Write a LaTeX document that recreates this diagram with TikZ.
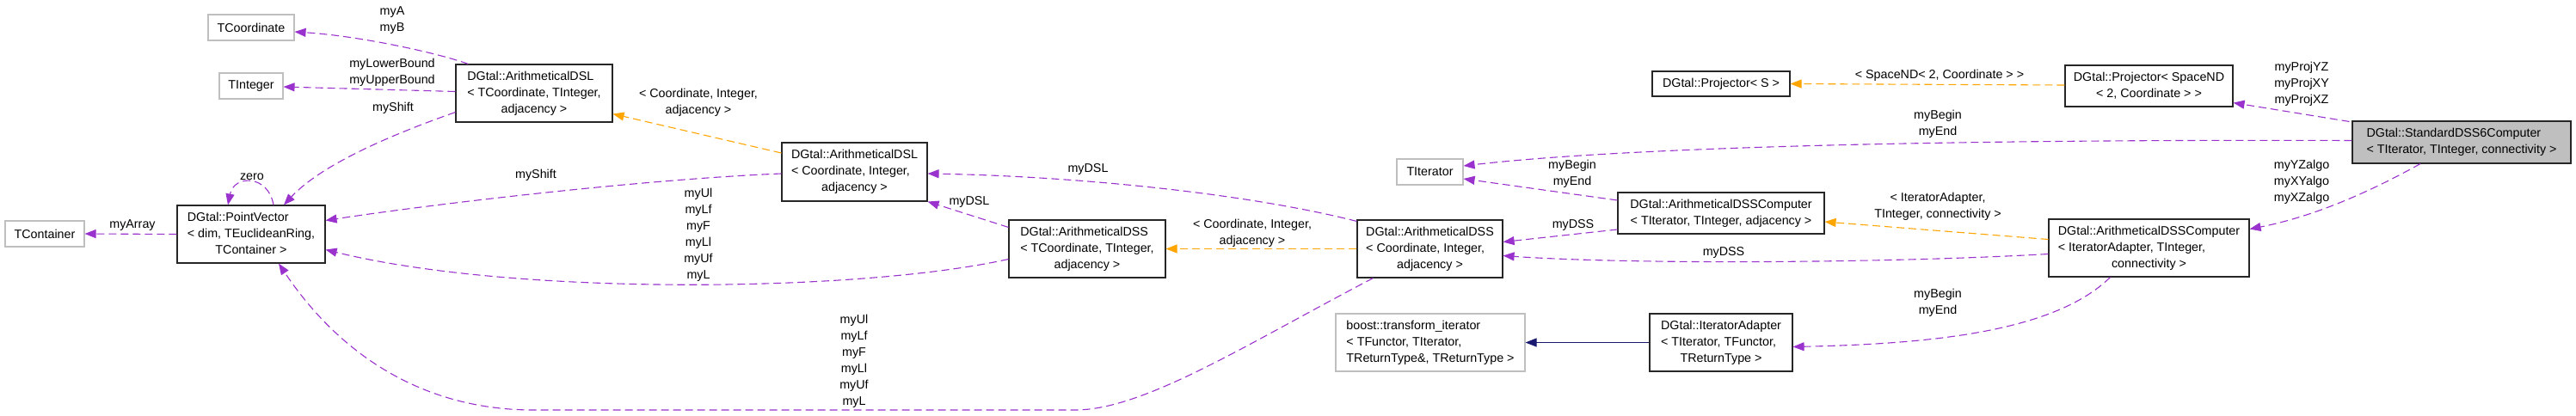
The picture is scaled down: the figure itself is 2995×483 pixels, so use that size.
\documentclass[tikz,border=0pt]{standalone}
\usepackage{fontspec}
\setmainfont{Liberation Sans}
\usepackage{tikz}
\usetikzlibrary{arrows.meta,calc}

\definecolor{usecol}{HTML}{9A32CD}
\definecolor{tplcol}{HTML}{FFA500}
\definecolor{inhcol}{HTML}{191970}
\definecolor{boxgray}{HTML}{BFBFBF}

% class label: left lines, then a centred last line
\newcommand{\cls}[2]{\begin{tabular}{@{}l@{}}#1\\\multicolumn{1}{@{}c@{}}{#2}\end{tabular}}

\begin{document}
\begin{tikzpicture}[
  x=1pt, y=-1pt,
  every node/.style={font=\fontsize{14.3}{19}\selectfont},
  box/.style={draw=black!85, line width=1.1pt, fill=white, inner sep=0pt},
  extbox/.style={box, draw=boxgray},
  curbox/.style={box, fill=boxgray},
  lbl/.style={align=center, inner sep=0pt},
  member/.style={-{Triangle[length=13pt,width=10pt]}, draw=usecol,
                 line width=1.1pt, dash pattern=on 9pt off 5pt},
  tmpl/.style={member, draw=tplcol},
  inh/.style={-{Triangle[length=13pt,width=10pt]}, draw=inhcol, line width=1.1pt}
]
\useasboundingbox (0,0) rectangle (2995,483);

%--------------------------------------------------
% left: point vector and its members
%--------------------------------------------------
\node[extbox, minimum width=100, minimum height=30] (tcoord) at (292,32) {TCoordinate};
\node[extbox, minimum width=74, minimum height=30] (tint) at (292,100) {TInteger};
\node[extbox, minimum width=92, minimum height=30] (tcont) at (52,272) {TContainer};

\node[box, minimum width=172, minimum height=67] (pv) at (292,272.5)
  {\cls{DGtal::PointVector\\< dim, TEuclideanRing,}{TContainer >}};

\node[box, minimum width=182, minimum height=67] (dslT) at (621,108.5)
  {\cls{DGtal::ArithmeticalDSL\\< TCoordinate, TInteger,}{adjacency >}};

%--------------------------------------------------
% middle: DSL / DSS classes
%--------------------------------------------------
\node[box, minimum width=169, minimum height=68] (dslC) at (993.5,200)
  {\cls{DGtal::ArithmeticalDSL\\< Coordinate, Integer,}{adjacency >}};

\node[box, minimum width=182, minimum height=67] (dssT) at (1264,289.5)
  {\cls{DGtal::ArithmeticalDSS\\< TCoordinate, TInteger,}{adjacency >}};

\node[box, minimum width=169, minimum height=67] (dssC) at (1662.5,289.5)
  {\cls{DGtal::ArithmeticalDSS\\< Coordinate, Integer,}{adjacency >}};

\node[extbox, minimum width=77, minimum height=30] (titer) at (1662.5,200) {TIterator};

\node[extbox, minimum width=220, minimum height=67] (boost) at (1663,398.5)
  {\cls{boost::transform\_iterator\\< TFunctor, TIterator,}{TReturnType\&, TReturnType >}};

%--------------------------------------------------
% right: computers and projectors
%--------------------------------------------------
\node[box, minimum width=160, minimum height=29] (projS) at (2001,97.5) {DGtal::Projector< S >};

\node[box, minimum width=240, minimum height=48] (adsscT) at (2001,248)
  {\cls{DGtal::ArithmeticalDSSComputer}{< TIterator, TInteger, adjacency >}};

\node[box, minimum width=166, minimum height=67] (iterAd) at (2001,398.5)
  {\cls{DGtal::IteratorAdapter\\< TIterator, TFunctor,}{TReturnType >}};

\node[box, minimum width=195, minimum height=48] (projN) at (2498.5,100)
  {\cls{DGtal::Projector< SpaceND}{< 2, Coordinate > >}};

\node[box, minimum width=233, minimum height=67] (adsscI) at (2498.5,288.5)
  {\cls{DGtal::ArithmeticalDSSComputer\\< IteratorAdapter, TInteger,}{connectivity >}};

\node[curbox, minimum width=254, minimum height=49] (dss6) at (2862,165.5)
  {\cls{DGtal::StandardDSS6Computer}{< TIterator, TInteger, connectivity >}};

%--------------------------------------------------
% connectors
%--------------------------------------------------
\draw[member] ($(dslT.north west)+(15,0)$) .. controls (510,62) and (420,42) .. ($(tcoord.east)+(0,5)$);
\draw[member] ($(dslT.west)+(0,-2)$) -- ($(tint.east)+(0,1)$);
\draw[member] ($(dslT.south west)+(0,-12)$) .. controls (460,155) and (375,190) .. ($(pv.north)+(38,0)$);
\draw[member] ($(pv.north)+(26,0)$) .. controls (312,203) and (272,203) .. ($(pv.north)+(-27,0)$);
\draw[member] (pv.west) -- (tcont.east);

\draw[member] ($(dslC.west)+(0,2)$) .. controls (760,208) and (520,235) .. ($(pv.east)+(0,-16)$);
\draw[member] ($(dssT.west)+(0,12)$) .. controls (1000,340) and (600,345) .. ($(pv.east)+(0,18)$);
\draw[member] ($(dssC.south west)+(19,0)$) .. controls (1450,400) and (1330,477) .. (1250,477)
  -- (620,477) .. controls (500,477) and (400,420) .. ($(pv.south)+(32,0)$);
\draw[tmpl] ($(dslC.west)+(0,-22)$) -- ($(dslT.south east)+(0,-10)$);
\draw[member] ($(dssT.north west)+(0,9)$) -- (dslC.south east);
\draw[member] ($(dssC.north west)+(0,2)$) .. controls (1450,225) and (1250,205) .. ($(dslC.east)+(0,2)$);
\draw[tmpl] (dssC.west) -- (dssT.east);

\draw[member] ($(dss6.west)+(0,-2)$) .. controls (2300,162) and (1900,170) .. ($(titer.east)+(0,-7)$);
\draw[member] ($(adsscT.west)+(0,-15)$) -- ($(titer.east)+(0,8)$);
\draw[member] ($(adsscT.west)+(0,19)$) -- ($(dssC.east)+(0,-8)$);
\draw[member] ($(adsscI.west)+(0,7)$) .. controls (2200,306) and (1900,308) .. ($(dssC.east)+(0,8)$);
\draw[tmpl] ($(adsscI.west)+(0,-10)$) -- ($(adsscT.east)+(0,10)$);
\draw[inh] (iterAd.west) -- (boost.east);
\draw[member] ($(adsscI.south)+(-45,0)$) .. controls (2390,385) and (2250,400) .. ($(iterAd.east)+(0,5)$);
\draw[tmpl] ($(projN.west)+(0,-1)$) -- (projS.east);
\draw[member] ($(dss6.north west)+(-3,1)$) -- ($(projN.south east)+(0,-5)$);
\draw[member] ($(dss6.south)+(-48,0)$) .. controls (2770,215) and (2700,250) .. ($(adsscI.east)+(0,-22)$);

%--------------------------------------------------
% connector labels
%--------------------------------------------------
\node[lbl] (lAB) at (456,24) {myA\\myB};
\node[lbl] (lBound) at (456,84) {myLowerBound\\myUpperBound};
\node[lbl] (lShiftT) at (457,126) {myShift};
\node[lbl] (lZero) at (293,206) {zero};
\node[lbl] (lArray) at (154,262) {myArray};
\node[lbl] (lShiftC) at (623,204) {myShift};
\node[lbl] (lTplDSL) at (812,119) {< Coordinate, Integer,\\adjacency >};
\node[lbl] (lDssT) at (812,273.5) {myUl\\myLf\\myF\\myLl\\myUf\\myL};
\node[lbl] (lDssC) at (993,420.5) {myUl\\myLf\\myF\\myLl\\myUf\\myL};
\node[lbl] (lDslT) at (1127,235) {myDSL};
\node[lbl] (lDslC) at (1265,197) {myDSL};
\node[lbl] (lTplDSS) at (1456,271.5) {< Coordinate, Integer,\\adjacency >};
\node[lbl] (lIterT) at (1828,202.5) {myBegin\\myEnd};
\node[lbl] (lDssA) at (1829,262) {myDSS};
\node[lbl] (lDssB) at (2004,294) {myDSS};
\node[lbl] (lIter6) at (2253,144) {myBegin\\myEnd};
\node[lbl] (lTplSpace) at (2255,88) {< SpaceND< 2, Coordinate > >};
\node[lbl] (lTplAdapt) at (2253,240) {< IteratorAdapter,\\TInteger, connectivity >};
\node[lbl] (lIterA) at (2253,352.5) {myBegin\\myEnd};
\node[lbl] (lProj) at (2676,98) {myProjYZ\\myProjXY\\myProjXZ};
\node[lbl] (lAlgo) at (2676,212) {myYZalgo\\myXYalgo\\myXZalgo};

\end{tikzpicture}
\end{document}
